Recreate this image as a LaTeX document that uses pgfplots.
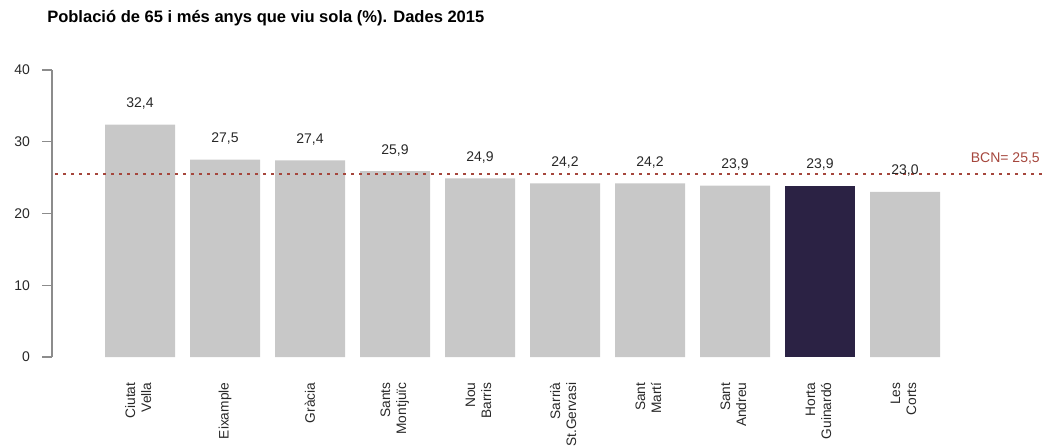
\documentclass[border=0pt]{standalone}
\usepackage{fontspec}
\setmainfont{Liberation Sans}
\usepackage{pgfplots}
\pgfplotsset{compat=1.18}
\definecolor{bargray}{RGB}{200,200,200}
\definecolor{hl}{RGB}{43,34,68}
\definecolor{bcn}{RGB}{165,70,60}
\definecolor{axgray}{RGB}{140,140,140}
\definecolor{txt}{RGB}{40,40,40}
\newcommand{\twol}[2]{\begin{tabular}{@{}r@{}}#1\\#2\end{tabular}}
\begin{document}
\begin{tikzpicture}[x=1pt,y=1pt]
\useasboundingbox (-39,-67.5) rectangle (744.75,267.75);
\node[anchor=west,font=\bfseries\fontsize{12.4}{14}\selectfont,text=black,inner sep=0pt] at (-3.75,254.25) {Població de 65 i més anys que viu sola (\%). Dades 2015};
\begin{axis}[
  at={(0,0)}, anchor=south west, scale only axis,
  width=744.75pt, height=215.25pt,
  xmin=-1.0353, xmax=10.647, ymin=0, ymax=40,
  clip=false,
  axis lines*=left,
  x axis line style={draw=none},
  y axis line style={draw=axgray, line width=0.8pt},
  ytick={0,10,20,30,40},
  xtick={0,...,9},
  xticklabels={{\twol{Ciutat}{Vella}}, Eixample, Gràcia, {\twol{Sants}{Montjuïc}}, {\twol{Nou}{Barris}}, {\twol{Sarrià}{St.Gervasi}}, {\twol{Sant}{Martí}}, {\twol{Sant}{Andreu}}, {\twol{Horta}{Guinardó}}, {\twol{Les}{Corts}}},
  xticklabel style={rotate=90, anchor=east, font=\fontsize{10.3}{12}\selectfont, text=txt, inner sep=0pt},
  xticklabel shift=11.5pt,
  yticklabel style={font=\fontsize{10.5}{12}\selectfont, text=txt},
  yticklabel shift=5.5pt,
  /pgf/number format/assume math mode=true,
  tick align=outside,
  major tick length=7.5pt,
  x tick style={draw=none},
  y tick style={draw=axgray, line width=0.8pt},
  ybar, bar width=52.5pt,
  nodes near coords={\pgfmathprintnumber[fixed,fixed zerofill,precision=1,use comma,assume math mode=true]{\pgfplotspointmeta}},
  every node near coord/.append style={anchor=center, yshift=15.75pt, font=\fontsize{10.5}{12}\selectfont, text=txt},
]
\addplot[fill=bargray, draw=none, bar shift=0pt] coordinates {
(0,32.4) (1,27.5) (2,27.4) (3,25.9) (4,24.9) (5,24.2) (6,24.2) (7,23.9) (9,23.0)};
\addplot[fill=hl, draw=none, bar shift=0pt] coordinates {(8,23.9)};
\addplot[sharp plot, bcn, line width=1.1pt, dash pattern=on 2.25pt off 3.75pt, nodes near coords=] coordinates {(-1,25.5) (10.647,25.5)};
\node[text=bcn, font=\fontsize{10.5}{12}\selectfont, anchor=center, yshift=12pt] at (axis cs:10.18,25.5) {BCN= 25,5};
\end{axis}
\end{tikzpicture}
\end{document}
